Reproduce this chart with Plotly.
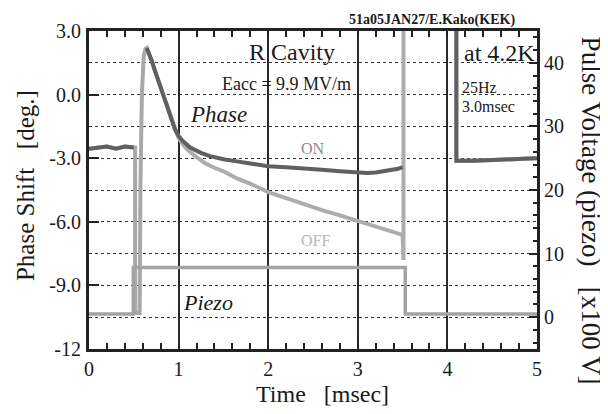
import plotly.graph_objects as go

# ---------------- data ----------------
# before the RF pulse (both traces)
t_pre = [0.0, 0.1, 0.2, 0.3, 0.4, 0.5]
ph_pre = [-2.55, -2.5, -2.45, -2.55, -2.45, -2.5]

# filling transient up to the peak (drawn thin and light in the original)
t_rise = [0.515, 0.515, 0.565, 0.575, 0.59, 0.61, 0.63]
ph_rise = [-2.5, -10.3, -10.3, -4.0, 0.0, 1.8, 2.15]

# decay from the peak (common to ON and OFF)
t_decay = [0.645, 0.67, 0.70, 0.73, 0.78, 0.83, 0.88, 0.93, 0.96]
ph_decay = [2.2, 1.95, 1.6, 1.2, 0.6, 0.0, -0.6, -1.25, -1.65]

t_on = [1.0, 1.05, 1.13, 1.25, 1.35, 1.5, 1.65, 1.8, 2.0, 2.2, 2.4, 2.6, 2.8, 3.0, 3.1,
        3.2, 3.33, 3.45, 3.5]
ph_on = [-1.95, -2.2, -2.5, -2.75, -2.9, -3.05, -3.15, -3.25, -3.38, -3.43, -3.47, -3.55,
         -3.62, -3.68, -3.7, -3.67, -3.6, -3.5, -3.42]

t_off = [1.0, 1.05, 1.1, 1.2, 1.3, 1.4, 1.5, 1.65, 1.8, 2.0, 2.2, 2.4, 2.6, 2.8, 3.0,
         3.2, 3.35, 3.5, 3.51, 3.51]
ph_off = [-2.05, -2.35, -2.6, -2.95, -3.25, -3.45, -3.62, -3.95, -4.2, -4.6, -4.9, -5.2,
          -5.45, -5.7, -5.95, -6.2, -6.4, -6.62, -7.8, 5.0]

# after the RF pulse (phase off-scale, then back)
t_post = [4.1, 4.1, 4.3, 4.5, 4.7, 4.9, 5.0]
ph_post = [5.0, -3.12, -3.12, -3.1, -3.08, -3.02, -3.0]

# piezo pulse voltage [x100 V]
t_piezo = [0.0, 0.495, 0.495, 3.53, 3.53, 5.0]
v_piezo = [0.5, 0.5, 7.8, 7.8, 0.5, 0.5]

x_ticks = [0, 1, 2, 3, 4, 5]
y_ticks = [3, 0, -3, -6, -9, -12]
y_ticktext = ["3.0", "0.0", "-3.0", "-6.0", "-9.0", "-12"]
y_minor = [1.5, -1.5, -4.5, -7.5, -10.5]
y2_ticks = [0, 10, 20, 30, 40]

FONT = "Liberation Serif"

# ---------------- figure ----------------
fig = go.Figure()

fig.add_trace(go.Scatter(
    x=t_piezo, y=v_piezo, yaxis="y2", mode="lines",
    line=dict(color="#a3a3a3", width=3.5), hoverinfo="skip", showlegend=False))

# OFF trace (light), full path including transient
fig.add_trace(go.Scatter(
    x=t_pre + t_rise + t_decay + t_off + [None] + t_post,
    y=ph_pre + ph_rise + ph_decay + ph_off + [None] + ph_post,
    mode="lines", line=dict(color="#adadad", width=4),
    hoverinfo="skip", showlegend=False))

# thin light transient on top
fig.add_trace(go.Scatter(
    x=[t_pre[-1]] + t_rise + [t_decay[0]],
    y=[ph_pre[-1]] + ph_rise + [ph_decay[0]],
    mode="lines", line=dict(color="#a8a8a8", width=3),
    hoverinfo="skip", showlegend=False))

# ON trace (dark)
fig.add_trace(go.Scatter(
    x=t_pre + [None] + t_decay + t_on + [None] + t_post,
    y=ph_pre + [None] + ph_decay + ph_on + [None] + ph_post,
    mode="lines", line=dict(color="#606060", width=4),
    hoverinfo="skip", showlegend=False))

# page body has an 8px margin, so the figure is drawn 8px smaller and offset
OFF = 8
W, H = 608 - OFF, 414 - OFF
PL, PT, PR, PB = 89, 25, 537, 349  # plot area in window pixels
L, T = PL - OFF, PT - OFF
R = W - (PR - OFF)
B = H - (PB - OFF)
pw, ph = PR - PL, PB - PT


def px(xp):
    return (xp - PL) / pw


def py(yp):
    return (PB - yp) / ph


ann = []


def add_text(text, xp, yp, size, color="#1a1a1a", italic=False, bold=False,
             xanchor="center", angle=0):
    t = text
    if bold:
        t = "<b>" + t + "</b>"
    if italic:
        t = "<i>" + t + "</i>"
    ann.append(dict(text=t, x=px(xp), y=py(yp), xref="paper", yref="paper",
                    xanchor=xanchor, yanchor="middle", showarrow=False,
                    textangle=angle,
                    font=dict(family=FONT, size=size, color=color)))


add_text("51a05JAN27/E.Kako(KEK)", 432, 14, 14, bold=True)
add_text("R Cavity", 292, 46, 24)
add_text("Eacc = 9.9 MV/m", 286, 79, 18)
add_text("Phase", 218, 110, 23, italic=True)
add_text("ON", 313, 145, 16, color="#8a8a8a")
add_text("OFF", 315, 238, 16, color="#b8b8b8")
add_text("at 4.2K", 537, 47, 24, xanchor="right")
add_text("25Hz", 460, 83, 16, xanchor="left")
add_text("3.0msec", 460, 102, 16, xanchor="left")
add_text("Piezo", 208, 302, 22, italic=True)
add_text("Time   [msec]", 322, 395, 24)
add_text("Phase Shift   [deg.]", 25, 183, 25, angle=-90)
add_text("Pulse Voltage (piezo)   [x100 V]", 591, 208, 27, angle=90)

fig.update_layout(
    width=W, height=H,
    margin=dict(l=L, r=R, t=T, b=B, pad=0),
    paper_bgcolor="white", plot_bgcolor="white",
    font=dict(family=FONT, size=20, color="#1a1a1a"),
    annotations=ann,
    xaxis=dict(
        range=[0, 5], tickmode="array", tickvals=x_ticks,
        ticks="inside", ticklen=6, tickwidth=1.5, tickcolor="#222",
        showgrid=True, gridcolor="#2a2a2a", gridwidth=1.5,
        showline=True, linecolor="#222", linewidth=3, mirror="allticks",
        zeroline=False, ticklabelstandoff=0,
        tickfont=dict(family=FONT, size=20, color="#1a1a1a"),
        minor=dict(dtick=0.2, tick0=0, ticks="inside", ticklen=5, tickwidth=1.5,
                   tickcolor="#222", showgrid=False),
    ),
    yaxis=dict(
        range=[-12, 3], tickmode="array", tickvals=y_ticks, ticktext=y_ticktext,
        ticks="inside", ticklen=10, tickwidth=2, tickcolor="#222",
        showgrid=True, gridcolor="#333", gridwidth=1, griddash="dot",
        showline=True, linecolor="#222", linewidth=3, mirror=False,
        zeroline=False, ticklabelstandoff=1,
        tickfont=dict(family=FONT, size=20, color="#1a1a1a"),
        minor=dict(tickmode="array", tickvals=y_minor, ticks="", showgrid=True,
                   gridcolor="#333", gridwidth=1, griddash="dot"),
    ),
    yaxis2=dict(
        range=[-5, 45], overlaying="y", side="right",
        tickmode="array", tickvals=y2_ticks,
        ticks="inside", ticklen=8, tickwidth=1.5, tickcolor="#222",
        showgrid=False, zeroline=False,
        showline=True, linecolor="#222", linewidth=3,
        ticklabelstandoff=0,
        tickfont=dict(family=FONT, size=20, color="#1a1a1a"),
        minor=dict(dtick=2, tick0=0, ticks="inside", ticklen=4, tickwidth=1.5,
                   tickcolor="#222", showgrid=False),
    ),
)

fig.write_html("out.html")
